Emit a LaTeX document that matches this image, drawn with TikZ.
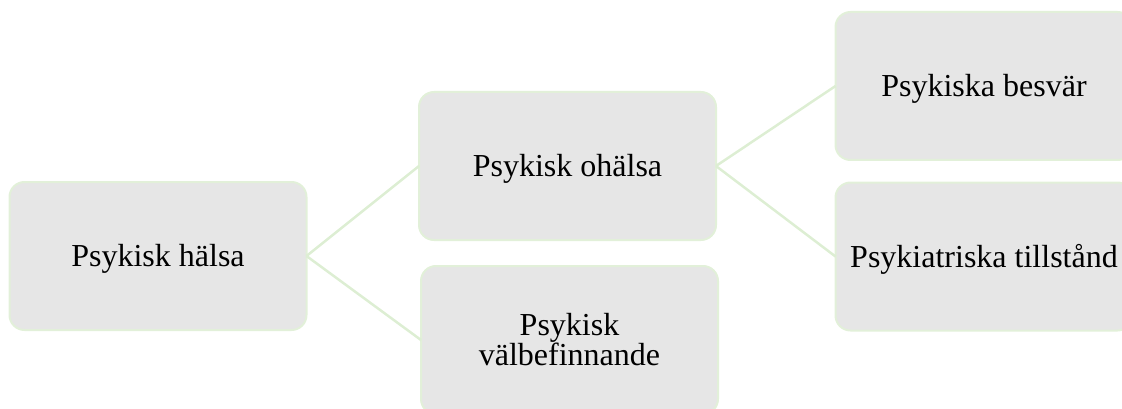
\documentclass[tikz,border=0pt]{standalone}
\usepackage{fontspec}
\setmainfont{Liberation Serif}
\definecolor{boxfill}{HTML}{E6E6E6}
\definecolor{boxedge}{HTML}{E2F0D9}
\definecolor{linkcol}{HTML}{DDEED3}
\begin{document}
\begin{tikzpicture}[x=1pt,y=-1pt,
  box/.style={draw=boxedge, line width=2pt, fill=boxfill, rounded corners=15pt,
    minimum width=297pt, minimum height=148pt, inner sep=0pt, outer sep=0pt,
    font=\fontsize{32}{30}\selectfont, text height=21pt, text depth=0pt, align=center},
  link/.style={draw=linkcol, line width=2.5pt}]
\useasboundingbox (0,0) rectangle (1122,409);
\clip (0,0) rectangle (1122,409);

% hierarchy boxes
\node[box] (root)  at (158,256)   {Psykisk hälsa};
\node[box] (ill)   at (567.5,166) {Psykisk ohälsa};
\node[box, text height=51pt] (well) at (569.5,340) {Psykisk\\välbefinnande};
\node[box] (compl) at (984,86)    {Psykiska besvär};
\node[box] (psych) at (984,256.5) {Psykiatriska tillstånd};

% connectors
\draw[link] (root.east) -- (ill.west);
\draw[link] (root.east) -- (well.west);
\draw[link] (ill.east) -- (compl.west);
\draw[link] (ill.east) -- (psych.west);
\end{tikzpicture}
\end{document}
